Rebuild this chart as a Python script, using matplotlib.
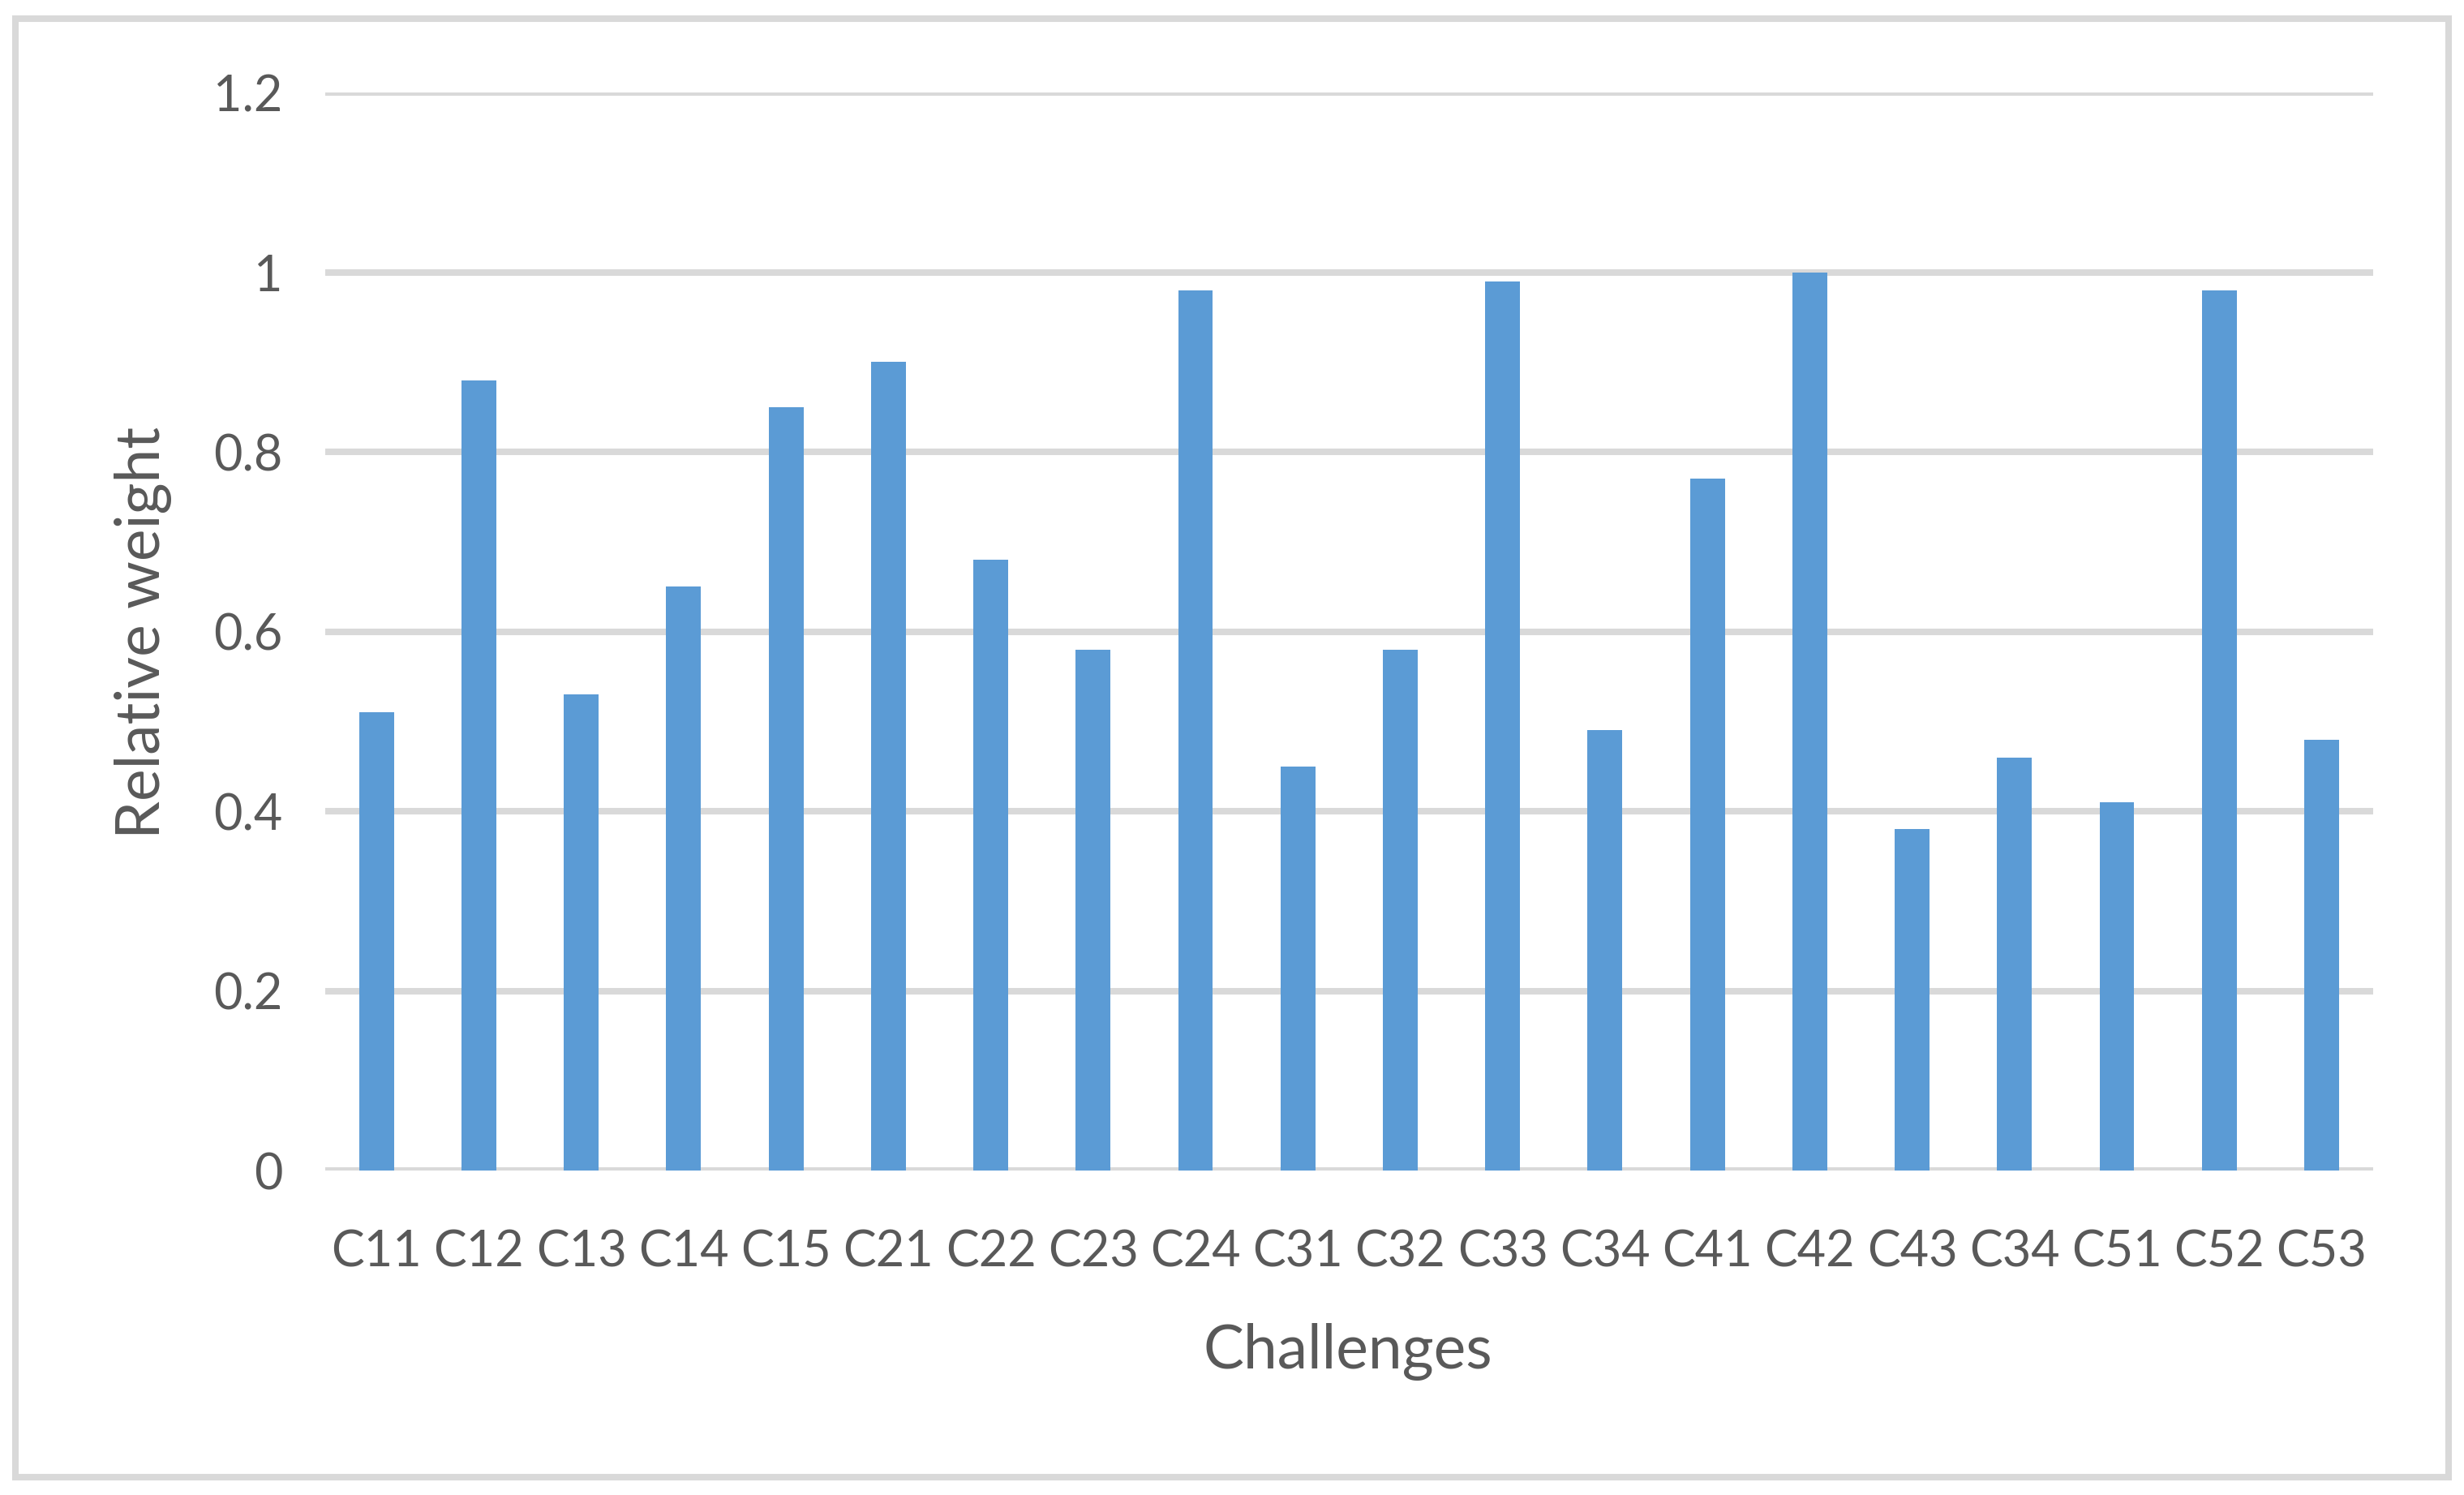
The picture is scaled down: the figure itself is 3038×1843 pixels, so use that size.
import matplotlib.pyplot as plt
from matplotlib.patches import Rectangle
import numpy as np

challenges = ["C11", "C12", "C13", "C14", "C15", "C21", "C22", "C23", "C24", "C31",
              "C32", "C33", "C34", "C41", "C42", "C43", "C34", "C51", "C52", "C53"]
weights = [0.51, 0.88, 0.53, 0.65, 0.85, 0.90, 0.68, 0.58, 0.98, 0.45,
           0.58, 0.99, 0.49, 0.77, 1.00, 0.38, 0.46, 0.41, 0.98, 0.48]
y_ticks = [0, 0.2, 0.4, 0.6, 0.8, 1, 1.2]
y_labels = ["0", "0.2", "0.4", "0.6", "0.8", "1", "1.2"]

plt.rcParams['font.family'] = ['Lato', 'DejaVu Sans']
text_color = "#595959"
grid_color = "#d9d9d9"

fig = plt.figure(figsize=(15.19, 9.215), dpi=200)
ax = fig.add_axes([0.132, 0.217, 0.831, 0.721])

x = np.arange(len(challenges))
ax.bar(x, weights, width=0.34, color="#5b9bd5", zorder=3)

ax.set_xlim(-0.5, len(challenges) - 0.5)
ax.set_ylim(0, 1.2)
ax.set_yticks(y_ticks)
ax.set_yticklabels(y_labels)
ax.set_xticks(x)
ax.set_xticklabels(challenges)
ax.tick_params(axis="both", length=0, labelsize=22, colors=text_color)
ax.tick_params(axis="y", pad=19)
ax.tick_params(axis="x", pad=26)
ax.yaxis.grid(True, color=grid_color, linewidth=2.9, zorder=0)
ax.set_axisbelow(True)
for s in ax.spines.values():
    s.set_visible(False)

fig.text(0.547, 0.096, "Challenges", ha="center", va="center", fontsize=27, color=text_color)
fig.text(0.058, 0.577, "Relative weight", ha="center", va="center", rotation=90,
         fontsize=27, color=text_color)

fig.patches.append(Rectangle((0.0063, 0.012), 0.9874, 0.9755, transform=fig.transFigure,
                             fill=False, edgecolor=grid_color, linewidth=2.9))

fig.savefig("out.png", dpi=200, facecolor="white")
